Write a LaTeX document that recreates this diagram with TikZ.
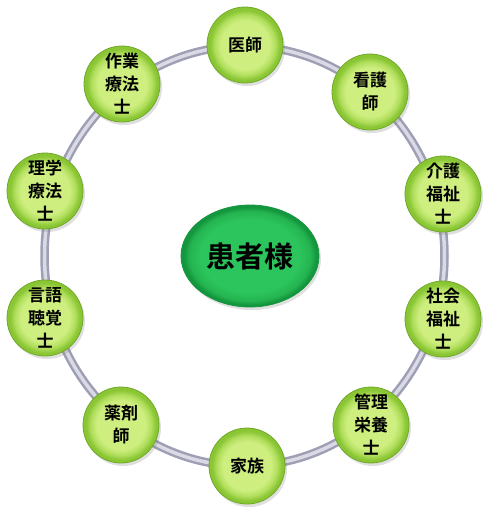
\documentclass[tikz,border=0pt]{standalone}
\usepackage{fontspec}
\newfontfamily\jpfont{Noto Sans CJK JP}[BoldFont={Noto Sans CJK JP Bold}]
\usetikzlibrary{shapes.geometric}
\usetikzlibrary{shadows}

\definecolor{ringdark}{RGB}{158,158,180}
\definecolor{ringlight}{RGB}{218,218,230}
\definecolor{leafin}{RGB}{206,238,128}
\definecolor{leafmid}{RGB}{176,222,92}
\definecolor{leafout}{RGB}{138,198,52}
\definecolor{leafline}{RGB}{112,168,40}
\definecolor{coin}{RGB}{44,196,92}
\definecolor{comid}{RGB}{36,180,80}
\definecolor{coout}{RGB}{20,150,62}

\pgfdeclareradialshading{leafbevel}{\pgfpoint{0bp}{0bp}}{%
  color(0bp)=(leafin); color(16bp)=(leafin); color(20bp)=(leafmid);
  color(23bp)=(leafout); color(25bp)=(leafout); color(50bp)=(leafout)}
\pgfdeclareradialshading{corebevel}{\pgfpoint{0bp}{0bp}}{%
  color(0bp)=(coin); color(18bp)=(coin); color(22bp)=(comid);
  color(24bp)=(coout); color(25bp)=(coout); color(50bp)=(coout)}

\tikzset{
  tube/.style={line width=8.5pt, draw=ringdark},
  tubelight/.style={line width=3.5pt, draw=ringlight},
  staff/.style={circle, minimum size=76pt, inner sep=0pt, align=center,
    shade, shading=leafbevel, draw=leafline, line width=0.8pt,
    drop shadow={opacity=0.25, shadow xshift=2pt, shadow yshift=-3pt},
    font=\jpfont\bfseries\fontsize{17}{23}\selectfont},
  patient/.style={ellipse, minimum width=138pt, minimum height=102pt, inner sep=0pt,
    shade, shading=corebevel, draw=coout, line width=0.8pt,
    drop shadow={opacity=0.25, shadow xshift=2pt, shadow yshift=-3pt},
    font=\jpfont\bfseries\fontsize{29}{32}\selectfont}
}

\begin{document}
\begin{tikzpicture}[x=1pt,y=-1pt]
  \useasboundingbox (0,0) rectangle (489,512);
  % ring behind the staff
  \draw[tube] (244.5,256) ellipse [x radius=200, y radius=210];
  \draw[tubelight] (244.5,256) ellipse [x radius=200, y radius=210];

  \node[patient] (patient) at (250,256) {患者様};

  \node[staff] (doctor)   at (245,45)  {医師};
  \node[staff] (nurse)    at (370,92)  {看護\\師};
  \node[staff] (carew)    at (443,194) {介護\\福祉\\士};
  \node[staff] (socialw)  at (443,319) {社会\\福祉\\士};
  \node[staff] (dietit)   at (371,425) {管理\\栄養\\士};
  \node[staff] (family)   at (247,466) {家族};
  \node[staff] (pharm)    at (121,425) {薬剤\\師};
  \node[staff] (speech)   at (45,318)  {言語\\聴覚\\士};
  \node[staff] (physio)   at (45,191)  {理学\\療法\\士};
  \node[staff] (occup)    at (122,84)  {作業\\療法\\士};
\end{tikzpicture}
\end{document}
